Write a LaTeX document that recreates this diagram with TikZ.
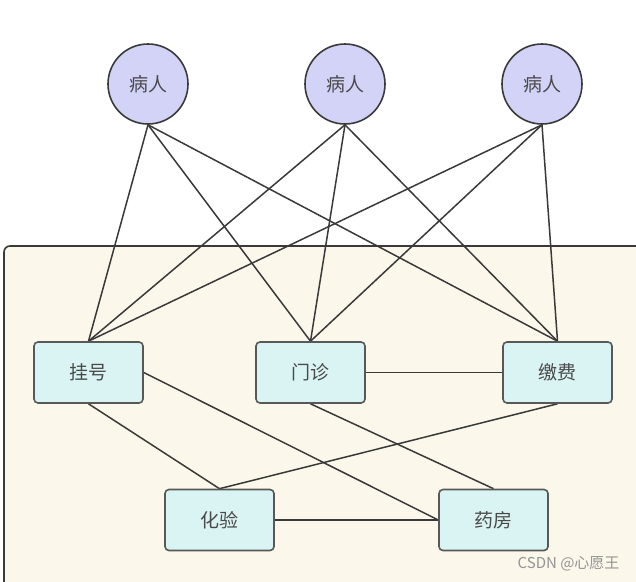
\documentclass[tikz,border=0pt]{standalone}
\usepackage{fontspec}
\newfontfamily\cjk{Noto Sans CJK SC}
\usetikzlibrary{backgrounds}
\definecolor{bgpanel}{HTML}{FBF7EA}
\definecolor{patfill}{HTML}{D2D3F7}
\definecolor{boxfill}{HTML}{D9F4F3}
\definecolor{edge}{HTML}{3A3A3A}
\definecolor{txt}{HTML}{4A4A4A}
\tikzset{
  patient/.style={circle, draw=edge, line width=1.6pt, fill=patfill, minimum size=80pt, inner sep=0pt, font=\cjk\fontsize{19}{22}\selectfont, text=txt},
  dept/.style={rectangle, rounded corners=4pt, draw=edge!85, line width=1.6pt, fill=boxfill, minimum width=109pt, minimum height=61pt, inner sep=0pt, font=\cjk\fontsize{19}{22}\selectfont, text=txt},
  link/.style={draw=edge, line width=1.5pt},
  panel/.style={draw=edge, line width=1.6pt, fill=bgpanel, rounded corners=6pt}
}
\begin{document}
\begin{tikzpicture}[x=1pt,y=-1pt]
\node[patient] (p1) at (148,84) {病人};
\node[patient] (p2) at (345,84) {病人};
\node[patient] (p3) at (542,84) {病人};
\node[dept] (reg) at (88.5,372.5) {挂号};
\node[dept] (clin) at (310.5,372.5) {门诊};
\node[dept] (pay) at (557.5,372.5) {缴费};
\node[dept] (lab) at (219.5,520) {化验};
\node[dept] (phar) at (493.5,520) {药房};
\node[font=\cjk\fontsize{15}{17}\selectfont, text=black!42, anchor=east] (wm) at (623,564) {CSDN @心愿王};
\begin{scope}[on background layer]
\fill[white] (0,0) rectangle (636,581);
\begin{scope}
\clip (0,0) rectangle (636,581);
\draw[panel] (4,246) rectangle (680,640);
\end{scope}
\foreach \p in {p1,p2,p3}{
  \foreach \d in {reg,clin,pay}{
    \draw[link] (\p.south) -- (\d.north);
  }
}
\draw[link] (reg.east) -- (phar.west);
\draw[link] (reg.south) -- (lab.north);
\draw[link] (clin.east) -- (pay.west);
\draw[link] (clin.south) -- (phar.north);
\draw[link] (pay.south) -- (lab.north);
\draw[link] (lab.east) -- (phar.west);
\end{scope}
\useasboundingbox (0,0) rectangle (636,581);
\end{tikzpicture}
\end{document}
